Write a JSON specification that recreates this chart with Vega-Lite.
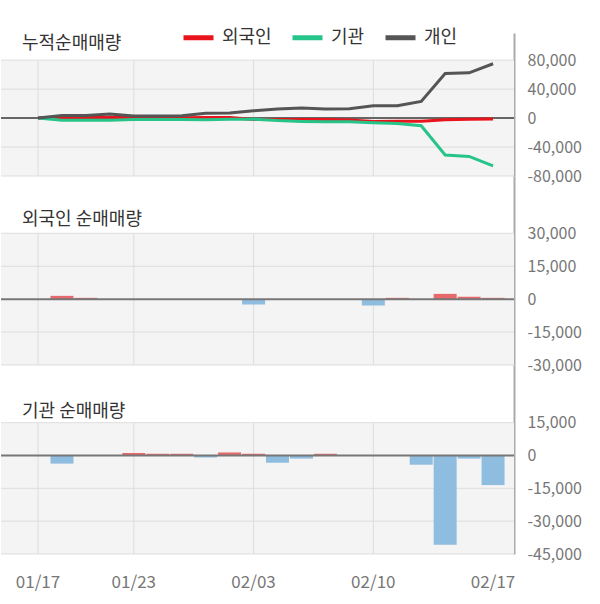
{
  "$schema": "https://vega.github.io/schema/vega-lite/v6.json",
  "background": "white",
  "padding": {"left": 0, "top": 20, "right": 0, "bottom": 14},
  "autosize": {"type": "pad"},
  "spacing": 0,
  "bounds": "flush",
  "config": {
    "font": "Noto Sans CJK KR",
    "view": {"stroke": null},
    "axis": {"grid": false, "ticks": false, "domain": false, "labelColor": "#777", "labelFontSize": 16},
    "locale": {"number": {"decimal": ".", "thousands": ",", "grouping": [3], "currency": ["", ""], "minus": "-"}}
  },
  "datasets": {
    "one": [{}],
    "hg1": [{"v": 80000}, {"v": 40000}, {"v": -40000}, {"v": -80000}],
    "hg2": [{"v": 30000}, {"v": 15000}, {"v": -15000}, {"v": -30000}],
    "hg3": [{"v": 15000}, {"v": -15000}, {"v": -30000}, {"v": -45000}],
    "vg": [{"date": "01/17"}, {"date": "01/23"}, {"date": "02/03"}, {"date": "02/10"}],
    "daily": [
      {"date": "01/17", "f": 0, "i": 0},
      {"date": "01/20", "f": 1500, "i": -3700},
      {"date": "01/21", "f": 600, "i": 0},
      {"date": "01/22", "f": 0, "i": 0},
      {"date": "01/23", "f": 0, "i": 1200},
      {"date": "01/28", "f": 0, "i": 800},
      {"date": "01/29", "f": 0, "i": 800},
      {"date": "01/30", "f": 0, "i": -900},
      {"date": "01/31", "f": 0, "i": 1400},
      {"date": "02/03", "f": -2400, "i": 800},
      {"date": "02/04", "f": 0, "i": -3300},
      {"date": "02/05", "f": 0, "i": -1400},
      {"date": "02/06", "f": 0, "i": 800},
      {"date": "02/07", "f": 0, "i": 0},
      {"date": "02/10", "f": -2900, "i": 0},
      {"date": "02/11", "f": 600, "i": 0},
      {"date": "02/12", "f": 0, "i": -4200},
      {"date": "02/13", "f": 2400, "i": -40800},
      {"date": "02/14", "f": 1100, "i": -1400},
      {"date": "02/17", "f": 600, "i": -13500}
    ],
    "cum": [
      {"date": "01/17", "s": "외국인", "v": 0},
      {"date": "01/20", "s": "외국인", "v": 800},
      {"date": "01/21", "s": "외국인", "v": 1200},
      {"date": "01/22", "s": "외국인", "v": 1200},
      {"date": "01/23", "s": "외국인", "v": 600},
      {"date": "01/28", "s": "외국인", "v": 400},
      {"date": "01/29", "s": "외국인", "v": 400},
      {"date": "01/30", "s": "외국인", "v": 900},
      {"date": "01/31", "s": "외국인", "v": 900},
      {"date": "02/03", "s": "외국인", "v": -1900},
      {"date": "02/04", "s": "외국인", "v": -2000},
      {"date": "02/05", "s": "외국인", "v": -2000},
      {"date": "02/06", "s": "외국인", "v": -2000},
      {"date": "02/07", "s": "외국인", "v": -2500},
      {"date": "02/10", "s": "외국인", "v": -4600},
      {"date": "02/11", "s": "외국인", "v": -4500},
      {"date": "02/12", "s": "외국인", "v": -4500},
      {"date": "02/13", "s": "외국인", "v": -2300},
      {"date": "02/14", "s": "외국인", "v": -1500},
      {"date": "02/17", "s": "외국인", "v": -1300},
      {"date": "01/17", "s": "기관", "v": 0},
      {"date": "01/20", "s": "기관", "v": -3000},
      {"date": "01/21", "s": "기관", "v": -3000},
      {"date": "01/22", "s": "기관", "v": -3000},
      {"date": "01/23", "s": "기관", "v": -2000},
      {"date": "01/28", "s": "기관", "v": -2000},
      {"date": "01/29", "s": "기관", "v": -2000},
      {"date": "01/30", "s": "기관", "v": -2200},
      {"date": "01/31", "s": "기관", "v": -1500},
      {"date": "02/03", "s": "기관", "v": -1500},
      {"date": "02/04", "s": "기관", "v": -3500},
      {"date": "02/05", "s": "기관", "v": -4600},
      {"date": "02/06", "s": "기관", "v": -5000},
      {"date": "02/07", "s": "기관", "v": -5000},
      {"date": "02/10", "s": "기관", "v": -6500},
      {"date": "02/11", "s": "기관", "v": -7500},
      {"date": "02/12", "s": "기관", "v": -10500},
      {"date": "02/13", "s": "기관", "v": -51000},
      {"date": "02/14", "s": "기관", "v": -53000},
      {"date": "02/17", "s": "기관", "v": -66000},
      {"date": "01/17", "s": "개인", "v": 0},
      {"date": "01/20", "s": "개인", "v": 3500},
      {"date": "01/21", "s": "개인", "v": 3700},
      {"date": "01/22", "s": "개인", "v": 5500},
      {"date": "01/23", "s": "개인", "v": 2800},
      {"date": "01/28", "s": "개인", "v": 2800},
      {"date": "01/29", "s": "개인", "v": 3200},
      {"date": "01/30", "s": "개인", "v": 6500},
      {"date": "01/31", "s": "개인", "v": 6900},
      {"date": "02/03", "s": "개인", "v": 10000},
      {"date": "02/04", "s": "개인", "v": 12500},
      {"date": "02/05", "s": "개인", "v": 14000},
      {"date": "02/06", "s": "개인", "v": 12500},
      {"date": "02/07", "s": "개인", "v": 13000},
      {"date": "02/10", "s": "개인", "v": 17000},
      {"date": "02/11", "s": "개인", "v": 17000},
      {"date": "02/12", "s": "개인", "v": 23000},
      {"date": "02/13", "s": "개인", "v": 61500},
      {"date": "02/14", "s": "개인", "v": 62500},
      {"date": "02/17", "s": "개인", "v": 75000}
    ]
  },
  "vconcat": [
    {
      "width": 513,
      "height": 143,
      "title": {"text": "누적순매매량", "anchor": "start", "frame": "group", "orient": "top", "offset": -34, "dx": 21, "baseline": "alphabetic", "fontSize": 18, "fontWeight": "normal", "color": "#333"},
      "layer": [
        {
          "data": {"name": "one"},
          "mark": {"type": "rect", "fill": "#f4f4f4"},
          "encoding": {
            "y": {"datum": 80000, "type": "quantitative", "scale": {"domain": [-80000, 117500], "nice": false, "zero": false},
              "axis": {"orient": "right", "values": [80000, 40000, 0, -40000, -80000], "format": ",d", "domain": true, "domainColor": "#aaaaaa", "domainWidth": 2, "labelPadding": 13, "labelColor": "#777", "labelFontSize": 16, "title": null, "grid": false, "ticks": false}},
            "y2": {"datum": -80000}
          }
        },
        {
          "data": {"name": "hg1"},
          "mark": {"type": "rule", "stroke": "#dddddd", "strokeWidth": 1},
          "encoding": {
            "y": {"field": "v", "type": "quantitative", "scale": {"domain": [-80000, 117500], "nice": false, "zero": false},
              "axis": {"orient": "right", "values": [80000, 40000, 0, -40000, -80000], "format": ",d", "domain": true, "domainColor": "#aaaaaa", "domainWidth": 2, "labelPadding": 13, "labelColor": "#777", "labelFontSize": 16, "title": null, "grid": false, "ticks": false}}
          }
        },
        {
          "data": {"name": "vg"},
          "mark": {"type": "rule", "stroke": "#dddddd", "strokeWidth": 1},
          "encoding": {
            "x": {"field": "date", "type": "nominal", "scale": {"type": "band", "domain": ["01/17","01/20","01/21","01/22","01/23","01/28","01/29","01/30","01/31","02/03","02/04","02/05","02/06","02/07","02/10","02/11","02/12","02/13","02/14","02/17"], "paddingInner": 0.04, "paddingOuter": 0.73, "align": 0.73}, "axis": null},
            "y": {"datum": 80000, "type": "quantitative", "scale": {"domain": [-80000, 117500], "nice": false, "zero": false},
              "axis": {"orient": "right", "values": [80000, 40000, 0, -40000, -80000], "format": ",d", "domain": true, "domainColor": "#aaaaaa", "domainWidth": 2, "labelPadding": 13, "labelColor": "#777", "labelFontSize": 16, "title": null, "grid": false, "ticks": false}},
            "y2": {"datum": -80000}
          }
        },
        {
          "data": {"name": "one"},
          "mark": {"type": "rule", "stroke": "#666666", "strokeWidth": 2},
          "encoding": {
            "y": {"datum": 0, "type": "quantitative", "scale": {"domain": [-80000, 117500], "nice": false, "zero": false},
              "axis": {"orient": "right", "values": [80000, 40000, 0, -40000, -80000], "format": ",d", "domain": true, "domainColor": "#aaaaaa", "domainWidth": 2, "labelPadding": 13, "labelColor": "#777", "labelFontSize": 16, "title": null, "grid": false, "ticks": false}}
          }
        },
        {
          "data": {"name": "cum"},
          "mark": {"type": "line", "strokeWidth": 3},
          "encoding": {
            "x": {"field": "date", "type": "nominal", "scale": {"type": "band", "domain": ["01/17","01/20","01/21","01/22","01/23","01/28","01/29","01/30","01/31","02/03","02/04","02/05","02/06","02/07","02/10","02/11","02/12","02/13","02/14","02/17"], "paddingInner": 0.04, "paddingOuter": 0.73, "align": 0.73}, "axis": null},
            "y": {"field": "v", "type": "quantitative", "scale": {"domain": [-80000, 117500], "nice": false, "zero": false},
              "axis": {"orient": "right", "values": [80000, 40000, 0, -40000, -80000], "format": ",d", "domain": true, "domainColor": "#aaaaaa", "domainWidth": 2, "labelPadding": 13, "labelColor": "#777", "labelFontSize": 16, "title": null, "grid": false, "ticks": false}},
            "color": {"field": "s", "type": "nominal", "sort": null,
              "scale": {"domain": ["외국인", "기관", "개인"], "range": ["#e8131b", "#27c48a", "#555555"]},
              "legend": {"orient": "none", "legendX": 180, "legendY": -13, "direction": "horizontal", "symbolType": "stroke", "symbolSize": 900, "symbolStrokeWidth": 5, "labelFontSize": 18, "labelColor": "#333", "labelOffset": 6, "columnPadding": 10, "title": null}}
          }
        }
      ]
    },
    {
      "width": 513,
      "height": 189,
      "title": {"text": "외국인 순매매량", "anchor": "start", "frame": "group", "orient": "top", "offset": -67, "dx": 21, "baseline": "alphabetic", "fontSize": 18, "fontWeight": "normal", "color": "#333"},
      "layer": [
        {
          "data": {"name": "one"},
          "mark": {"type": "rect", "fill": "#f4f4f4"},
          "encoding": {
            "y": {"datum": 30000, "type": "quantitative", "scale": {"domain": [-30000, 56100], "nice": false, "zero": false},
              "axis": {"orient": "right", "values": [30000, 15000, 0, -15000, -30000], "format": ",d", "domain": true, "domainColor": "#aaaaaa", "domainWidth": 2, "labelPadding": 13, "labelColor": "#777", "labelFontSize": 16, "title": null, "grid": false, "ticks": false}},
            "y2": {"datum": -30000}
          }
        },
        {
          "data": {"name": "hg2"},
          "mark": {"type": "rule", "stroke": "#dddddd", "strokeWidth": 1},
          "encoding": {
            "y": {"field": "v", "type": "quantitative", "scale": {"domain": [-30000, 56100], "nice": false, "zero": false},
              "axis": {"orient": "right", "values": [30000, 15000, 0, -15000, -30000], "format": ",d", "domain": true, "domainColor": "#aaaaaa", "domainWidth": 2, "labelPadding": 13, "labelColor": "#777", "labelFontSize": 16, "title": null, "grid": false, "ticks": false}}
          }
        },
        {
          "data": {"name": "vg"},
          "mark": {"type": "rule", "stroke": "#dddddd", "strokeWidth": 1},
          "encoding": {
            "x": {"field": "date", "type": "nominal", "scale": {"type": "band", "domain": ["01/17","01/20","01/21","01/22","01/23","01/28","01/29","01/30","01/31","02/03","02/04","02/05","02/06","02/07","02/10","02/11","02/12","02/13","02/14","02/17"], "paddingInner": 0.04, "paddingOuter": 0.73, "align": 0.73}, "axis": null},
            "y": {"datum": 30000, "type": "quantitative", "scale": {"domain": [-30000, 56100], "nice": false, "zero": false},
              "axis": {"orient": "right", "values": [30000, 15000, 0, -15000, -30000], "format": ",d", "domain": true, "domainColor": "#aaaaaa", "domainWidth": 2, "labelPadding": 13, "labelColor": "#777", "labelFontSize": 16, "title": null, "grid": false, "ticks": false}},
            "y2": {"datum": -30000}
          }
        },
        {
          "data": {"name": "daily"},
          "mark": {"type": "bar"},
          "encoding": {
            "x": {"field": "date", "type": "nominal", "scale": {"type": "band", "domain": ["01/17","01/20","01/21","01/22","01/23","01/28","01/29","01/30","01/31","02/03","02/04","02/05","02/06","02/07","02/10","02/11","02/12","02/13","02/14","02/17"], "paddingInner": 0.04, "paddingOuter": 0.73, "align": 0.73}, "axis": null},
            "y": {"field": "f", "type": "quantitative", "scale": {"domain": [-30000, 56100], "nice": false, "zero": false},
              "axis": {"orient": "right", "values": [30000, 15000, 0, -15000, -30000], "format": ",d", "domain": true, "domainColor": "#aaaaaa", "domainWidth": 2, "labelPadding": 13, "labelColor": "#777", "labelFontSize": 16, "title": null, "grid": false, "ticks": false}},
            "color": {"condition": {"test": "datum.f > 0", "value": "#e8696b"}, "value": "#8fbde0"}
          }
        },
        {
          "data": {"name": "one"},
          "mark": {"type": "rule", "stroke": "#777777", "strokeWidth": 2},
          "encoding": {
            "y": {"datum": 0, "type": "quantitative", "scale": {"domain": [-30000, 56100], "nice": false, "zero": false},
              "axis": {"orient": "right", "values": [30000, 15000, 0, -15000, -30000], "format": ",d", "domain": true, "domainColor": "#aaaaaa", "domainWidth": 2, "labelPadding": 13, "labelColor": "#777", "labelFontSize": 16, "title": null, "grid": false, "ticks": false}}
          }
        }
      ]
    },
    {
      "width": 513,
      "height": 189,
      "title": {"text": "기관 순매매량", "anchor": "start", "frame": "group", "orient": "top", "offset": -70, "dx": 21, "baseline": "alphabetic", "fontSize": 18, "fontWeight": "normal", "color": "#333"},
      "layer": [
        {
          "data": {"name": "one"},
          "mark": {"type": "rect", "fill": "#f4f4f4"},
          "encoding": {
            "y": {"datum": 15000, "type": "quantitative", "scale": {"domain": [-45000, 41360], "nice": false, "zero": false},
              "axis": {"orient": "right", "values": [15000, 0, -15000, -30000, -45000], "format": ",d", "domain": true, "domainColor": "#aaaaaa", "domainWidth": 2, "labelPadding": 13, "labelColor": "#777", "labelFontSize": 16, "title": null, "grid": false, "ticks": false}},
            "y2": {"datum": -45000}
          }
        },
        {
          "data": {"name": "hg3"},
          "mark": {"type": "rule", "stroke": "#dddddd", "strokeWidth": 1},
          "encoding": {
            "y": {"field": "v", "type": "quantitative", "scale": {"domain": [-45000, 41360], "nice": false, "zero": false},
              "axis": {"orient": "right", "values": [15000, 0, -15000, -30000, -45000], "format": ",d", "domain": true, "domainColor": "#aaaaaa", "domainWidth": 2, "labelPadding": 13, "labelColor": "#777", "labelFontSize": 16, "title": null, "grid": false, "ticks": false}}
          }
        },
        {
          "data": {"name": "vg"},
          "mark": {"type": "rule", "stroke": "#dddddd", "strokeWidth": 1},
          "encoding": {
            "x": {"field": "date", "type": "nominal", "scale": {"type": "band", "domain": ["01/17","01/20","01/21","01/22","01/23","01/28","01/29","01/30","01/31","02/03","02/04","02/05","02/06","02/07","02/10","02/11","02/12","02/13","02/14","02/17"], "paddingInner": 0.04, "paddingOuter": 0.73, "align": 0.73},
              "axis": {"orient": "bottom", "values": ["01/17", "01/23", "02/03", "02/10", "02/17"], "labelAngle": 0, "labelPadding": 20, "labelColor": "#777", "labelFontSize": 17, "title": null, "grid": false, "ticks": false, "domain": false}},
            "y": {"datum": 15000, "type": "quantitative", "scale": {"domain": [-45000, 41360], "nice": false, "zero": false},
              "axis": {"orient": "right", "values": [15000, 0, -15000, -30000, -45000], "format": ",d", "domain": true, "domainColor": "#aaaaaa", "domainWidth": 2, "labelPadding": 13, "labelColor": "#777", "labelFontSize": 16, "title": null, "grid": false, "ticks": false}},
            "y2": {"datum": -45000}
          }
        },
        {
          "data": {"name": "daily"},
          "mark": {"type": "bar"},
          "encoding": {
            "x": {"field": "date", "type": "nominal", "scale": {"type": "band", "domain": ["01/17","01/20","01/21","01/22","01/23","01/28","01/29","01/30","01/31","02/03","02/04","02/05","02/06","02/07","02/10","02/11","02/12","02/13","02/14","02/17"], "paddingInner": 0.04, "paddingOuter": 0.73, "align": 0.73},
              "axis": {"orient": "bottom", "values": ["01/17", "01/23", "02/03", "02/10", "02/17"], "labelAngle": 0, "labelPadding": 20, "labelColor": "#777", "labelFontSize": 17, "title": null, "grid": false, "ticks": false, "domain": false}},
            "y": {"field": "i", "type": "quantitative", "scale": {"domain": [-45000, 41360], "nice": false, "zero": false},
              "axis": {"orient": "right", "values": [15000, 0, -15000, -30000, -45000], "format": ",d", "domain": true, "domainColor": "#aaaaaa", "domainWidth": 2, "labelPadding": 13, "labelColor": "#777", "labelFontSize": 16, "title": null, "grid": false, "ticks": false}},
            "color": {"condition": {"test": "datum.i > 0", "value": "#e8696b"}, "value": "#8fbde0"}
          }
        },
        {
          "data": {"name": "one"},
          "mark": {"type": "rule", "stroke": "#777777", "strokeWidth": 2},
          "encoding": {
            "y": {"datum": 0, "type": "quantitative", "scale": {"domain": [-45000, 41360], "nice": false, "zero": false},
              "axis": {"orient": "right", "values": [15000, 0, -15000, -30000, -45000], "format": ",d", "domain": true, "domainColor": "#aaaaaa", "domainWidth": 2, "labelPadding": 13, "labelColor": "#777", "labelFontSize": 16, "title": null, "grid": false, "ticks": false}}
          }
        }
      ]
    }
  ]
}
